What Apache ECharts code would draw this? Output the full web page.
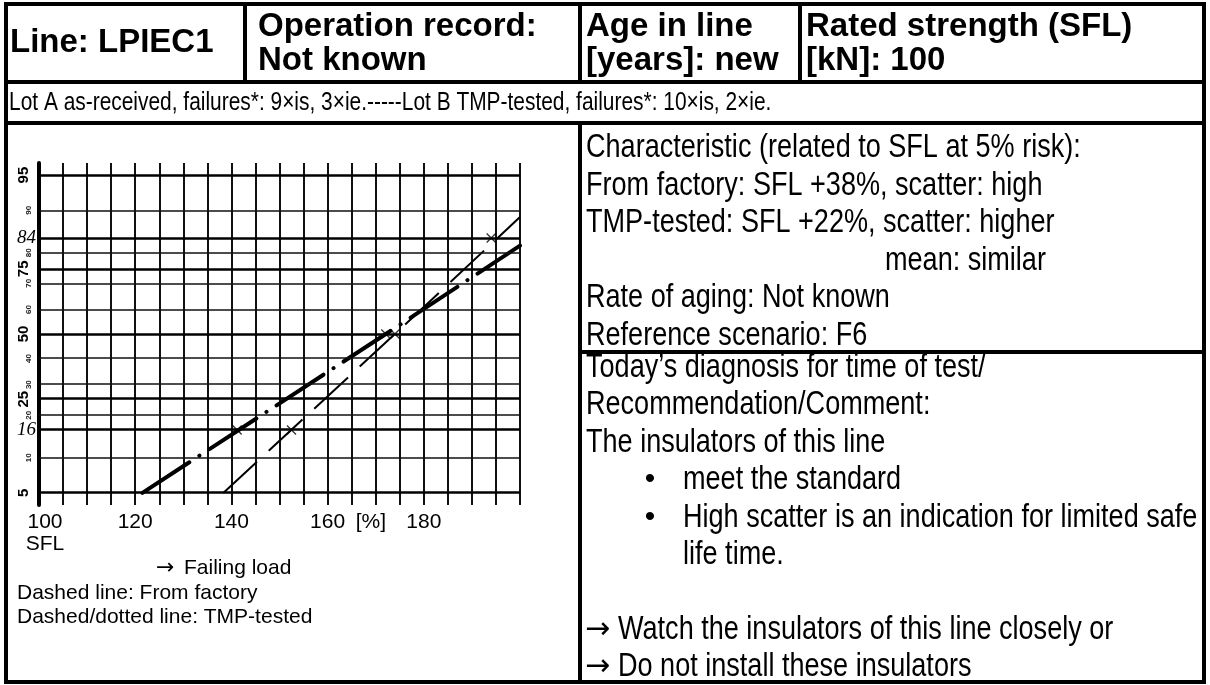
<!DOCTYPE html>
<html><head><meta charset="utf-8">
<script src="https://cdn.jsdelivr.net/npm/echarts@6/dist/echarts.min.js"></script>
<style>html,body{margin:0;padding:0;background:#fff}#c{width:1210px;height:685px}</style>
</head><body><div id="c"></div>
<script>
// ---------------- data ----------------
const xTickLabels = [100, 120, 140, 160, 180];
const xUnitLabel = '[%]';
const xUnitAt = 169;
const probMajor = [95, 75, 50, 25, 5];            // large rotated labels
const probPrinted = [90, 80, 70, 60, 40, 30, 20, 10]; // small printed labels
const probHand = [84, 16];                         // handwritten labels
const gridThick = [95, 84, 75, 50, 25, 16, 5];
const gridThin = [90, 80, 70, 60, 40, 30, 20, 10];
// failing load [% of SFL], cumulative probability [%]
const factoryLine = [[138.3, 5], [174, 50], [200, 88.7]];
const tmpLine = [[121.5, 5], [172.1, 50], [200, 82]];
const factoryMarks = [[152.5, 16], [174, 50], [194, 84]];
const tmpMarks = [[141.2, 16], [172.1, 50]];

// ---------------- helpers ----------------
function probit(p){
  const a=[-3.969683028665376e+01,2.209460984245205e+02,-2.759285104469687e+02,1.383577518672690e+02,-3.066479806614716e+01,2.506628277459239e+00];
  const b=[-5.447609879822406e+01,1.615858368580409e+02,-1.556989798598866e+02,6.680131188771972e+01,-1.328068155288572e+01];
  const c=[-7.784894002430293e-03,-3.223964580411365e-01,-2.400758277161838e+00,-2.549732539343734e+00,4.374664141464968e+00,2.938163982698783e+00];
  const d=[7.784695709041462e-03,3.224671290700398e-01,2.445134137142996e+00,3.754408661907416e+00];
  const pl=0.02425, ph=1-pl; let q,r;
  if(p<pl){q=Math.sqrt(-2*Math.log(p));return (((((c[0]*q+c[1])*q+c[2])*q+c[3])*q+c[4])*q+c[5])/((((d[0]*q+d[1])*q+d[2])*q+d[3])*q+1);}
  if(p<=ph){q=p-0.5;r=q*q;return (((((a[0]*r+a[1])*r+a[2])*r+a[3])*r+a[4])*r+a[5])*q/(((((b[0]*r+b[1])*r+b[2])*r+b[3])*r+b[4])*r+1);}
  q=Math.sqrt(-2*Math.log(1-p));return -(((((c[0]*q+c[1])*q+c[2])*q+c[3])*q+c[4])*q+c[5])/((((d[0]*q+d[1])*q+d[2])*q+d[3])*q+1);
}
const Z = p => probit(p/100);
const labelOf = list => v => { const p = list.find(q => Math.abs(Z(q)-v) < 1e-6); return p === undefined ? '' : String(p); };

function hasFont(name){
  const ctx=document.createElement('canvas').getContext('2d');
  const s='abcdefghijklmnopqrstuvwxyzABCDEFGH';
  ctx.font='40px monospace'; const a=ctx.measureText(s).width;
  ctx.font='40px "'+name+'", monospace'; const b=ctx.measureText(s).width;
  return Math.abs(a-b)>0.5;
}
const NARROW = hasFont('Liberation Sans Narrow');
const nFont = NARROW ? 'Liberation Sans Narrow' : 'Liberation Sans';
const nScale = NARROW ? 1 : 0.82;

// ---------------- layout ----------------
const L = {left:6, right:1204, top:4, bottom:682, headBottom:82, row2Bottom:123, cols:[245,580,800], mid:580, split:352};

const graphic = [];
function hline(y,x1,x2,w){graphic.push({type:'line',z:100,shape:{x1:x1,y1:y,x2:x2,y2:y},style:{stroke:'#000',lineWidth:w}});}
function vline(x,y1,y2,w){graphic.push({type:'line',z:100,shape:{x1:x,y1:y1,x2:x,y2:y2},style:{stroke:'#000',lineWidth:w}});}
hline(L.top,L.left-2,L.right+2,4); hline(L.headBottom,L.left,L.right,4); hline(L.row2Bottom,L.left,L.right,4); hline(L.bottom,L.left-2,L.right+2,4);
vline(L.left,L.top,L.bottom,4); vline(L.right,L.top,L.bottom,4);
L.cols.forEach(x=>vline(x,L.top,L.headBottom,4));
vline(L.mid,L.row2Bottom,L.bottom,4);
hline(L.split,L.mid,L.right,4);

function txt(s,x,y,opt){
  opt=opt||{};
  graphic.push({type:'text',z:101,x:x,y:y,scaleX:opt.narrow?nScale:1,
    style:{text:s,fill:'#000',fontSize:opt.size||21,fontWeight:opt.bold?'bold':'normal',
      fontFamily:opt.narrow?nFont:(opt.family||'Liberation Sans'),textAlign:opt.align||'left',textVerticalAlign:'middle'}});
}
// header
const H = {size:33, bold:true};
txt('Line: LPIEC1',10,43,H);
txt('Operation record:',258,27,H); txt('Not known',258,61,H);
txt('Age in line',586,27,H); txt('[years]: new',586,61,H);
txt('Rated strength (SFL)',806,27,H); txt('[kN]: 100',806,61,H);
// row 2
txt('Lot A as-received, failures*: 9\u00d7is, 3\u00d7ie.-----Lot B TMP-tested, failures*: 10\u00d7is, 2\u00d7ie.',9,103,{narrow:true,size:25.5});
// right top panel
const RP = {narrow:true,size:33};
const topLines = ['Characteristic (related to SFL at 5% risk):','From factory: SFL +38%, scatter: high','TMP-tested: SFL +22%, scatter: higher',null,'Rate of aging: Not known','Reference scenario: F6'];
topLines.forEach((s,i)=>{ if(s) txt(s,586,148+37.6*i,RP); });
txt('mean: similar',885,148+37.6*3,RP);
// right bottom panel
const by = i => 368 + 37.4*i;
const ARW = {size:30,family:'DejaVu Sans'};
const BUL = {size:30,family:'Liberation Sans',align:'center'};
txt('Today\u2019s diagnosis for time of test/',586,by(0),RP);
txt('Recommendation/Comment:',586,by(1),RP);
txt('The insulators of this line',586,by(2),RP);
txt('\u2022',650,by(3),BUL); txt('meet the standard',683,by(3),RP);
txt('\u2022',650,by(4),BUL); txt('High scatter is an indication for limited safe',683,by(4),RP);
txt('life time.',683,by(5),RP);
txt('\u2192',585,by(7),ARW); txt('Watch the insulators of this line closely or',618,by(7),RP);
txt('\u2192',585,by(8),ARW); txt('Do not install these insulators',618,by(8),RP);
// left bottom
txt('\u2192',156,568,{size:22,family:'DejaVu Sans'}); txt('Failing load',184,568);
txt('Dashed line: From factory',17,593);
txt('Dashed/dotted line: TMP-tested',17,617);

// ---------------- chart ----------------
const chart = echarts.init(document.getElementById('c'));
const yBase = {type:'value',min:-1.77,max:1.77,position:'left',offset:0,splitLine:{show:false},axisTick:{show:false}};
chart.setOption({
  animation:false,
  backgroundColor:'#fff',
  grid:{left:39,right:690,top:163,bottom:180,containLabel:false},
  xAxis:{type:'value',min:100,max:200,interval:5,
    axisLine:{show:false},axisTick:{show:false},
    splitLine:{show:true,lineStyle:{color:'#111',width:2}},
    axisLabel:{customValues:xTickLabels.concat([xUnitAt]),margin:6,color:'#000',fontSize:21,fontFamily:'Liberation Sans',lineHeight:22,
      rich:{s:{fontSize:21,fontFamily:'Liberation Sans',color:'#000',lineHeight:22,padding:[0,0,0,12]}},
      formatter:v=> v===xUnitAt ? xUnitLabel : (v===100 ? '{s|100}\n{s|SFL}' : String(v))}},
  yAxis:[
    Object.assign({},yBase,{axisLine:{show:true,lineStyle:{color:'#000',width:4}},
      axisLabel:{customValues:probMajor.map(Z),rotate:90,margin:8,fontSize:15,fontWeight:'bold',color:'#000',fontFamily:'Liberation Sans',formatter:labelOf(probMajor)}}),
    Object.assign({},yBase,{axisLine:{show:false},
      axisLabel:{customValues:probPrinted.map(Z),rotate:90,margin:6,fontSize:8,fontWeight:'bold',color:'#222',fontFamily:'Liberation Sans',formatter:labelOf(probPrinted)}}),
    Object.assign({},yBase,{axisLine:{show:false},
      axisLabel:{customValues:probHand.map(Z),rotate:0,margin:3,fontSize:19,fontStyle:'italic',color:'#000',fontFamily:'Liberation Serif',formatter:labelOf(probHand)}})
  ],
  series:[
    {type:'line',data:[],silent:true,z:1,
      markLine:{symbol:'none',silent:true,label:{show:false},
        data:gridThick.map(p=>({yAxis:Z(p),lineStyle:{color:'#000',width:2.5,type:'solid'}}))
          .concat(gridThin.map(p=>({yAxis:Z(p),lineStyle:{color:'#111',width:1.5,type:'solid'}})))}},
    {type:'line',name:'From factory',z:3,data:factoryLine.map(d=>[d[0],Z(d[1])]),symbol:'none',
      lineStyle:{color:'#000',width:2,type:[46,16]}},
    {type:'line',name:'TMP-tested',z:3,data:tmpLine.map(d=>[d[0],Z(d[1])]),symbol:'none',
      lineStyle:{color:'#000',width:4,type:[56,12,0.1,12],cap:'round'}},
    {type:'scatter',z:4,data:factoryMarks.concat(tmpMarks).map(d=>[d[0],Z(d[1])]),
      symbol:'path://M0,0L10,10M10,0L0,10',symbolSize:9,
      itemStyle:{color:'rgba(0,0,0,0)',borderColor:'#000',borderWidth:1.3}}
  ],
  graphic:graphic
});
</script></body></html>
